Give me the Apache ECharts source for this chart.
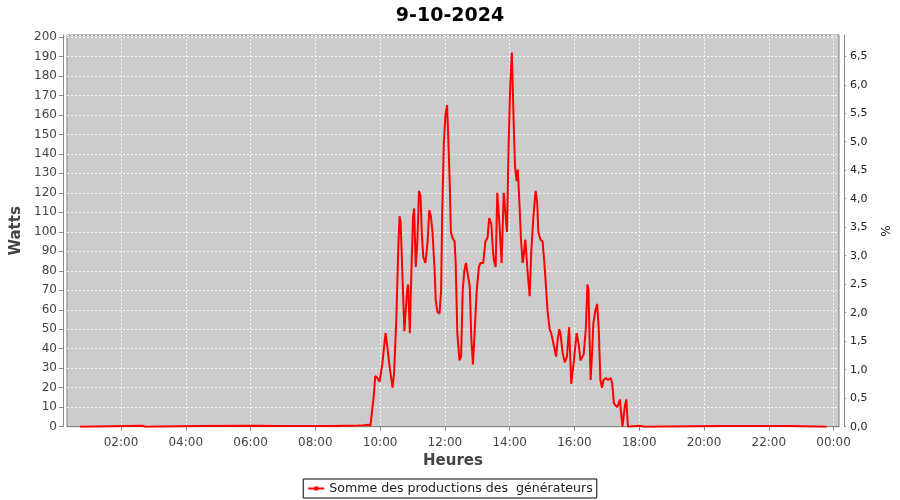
<!DOCTYPE html>
<html>
<head>
<meta charset="utf-8">
<script src="https://cdn.jsdelivr.net/npm/echarts@6/dist/echarts.min.js"></script>
<style>html,body{margin:0;padding:0;background:#fff}#c{width:900px;height:500px}</style>
</head>
<body>
<div id="c"></div>
<script>
const chartTitle = "9-10-2024";
const seriesName = "Somme des productions des  générateurs";
const times = [
  "00:44","02:40","02:45","04:20","06:10","06:50","07:20","08:30","09:20","09:30","09:38","09:42",
  "09:45","09:48","09:51","09:55","09:59","10:04","10:10","10:13","10:17","10:23","10:26","10:30",
  "10:34","10:36","10:38","10:41","10:45","10:50","10:52","10:55","10:58","11:01","11:03","11:06",
  "11:09","11:12","11:15","11:17","11:20","11:24","11:28","11:31","11:34","11:37","11:41","11:43",
  "11:46","11:50","11:53","11:55","11:58","12:01","12:04","12:06","12:09","12:11","12:14","12:18",
  "12:20","12:23","12:27","12:30","12:33","12:36","12:39","12:42","12:46","12:49","12:52","12:55",
  "12:59","13:03","13:06","13:11","13:15","13:19","13:22","13:26","13:29","13:31","13:34","13:37",
  "13:41","13:45","13:49","13:52","13:55","13:58","14:01","14:04","14:05","14:08","14:10","14:13",
  "14:15","14:18","14:21","14:24","14:26","14:29","14:33","14:37","14:40","14:44","14:48","14:51",
  "14:53","14:57","15:01","15:04","15:06","15:10","15:14","15:17","15:20","15:23","15:26","15:29",
  "15:32","15:34","15:38","15:42","15:46","15:50","15:54","15:59","16:04","16:08","16:11","16:17",
  "16:21","16:24","16:26","16:28","16:30","16:33","16:35","16:39","16:42","16:45","16:48","16:51",
  "16:54","16:58","17:02","17:07","17:10","17:13","17:16","17:19","17:22","17:24","17:26","17:29",
  "17:31","17:33","17:36","17:39","17:41","18:00","18:10","20:30","22:40","23:47"
];
const watts = [
  0,0.5,0,0.4,0.5,0.4,0.3,0.4,0.6,0.8,1,0.5,
  0,15,26,25,23,32,48,42,32,20,28,55,
  95,108,105,80,49,70,73,48,80,108,112,82,
  95,121,118,100,87,84,95,111,108,100,80,65,
  59,58,70,110,145,160,165,150,125,100,97,95,
  84,48,34,36,70,80,84,83,72,45,32,48,
  70,82,84,84,95,97,107,104,90,85,82,120,
  104,84,120,110,100,144,175,192,192,150,133,126,
  132,115,96,84,88,96,80,67,90,108,121,115,
  100,96,95,85,77,60,50,48,48,40,36,45,
  50,48,38,33,36,51,22,34,48,42,34,37,
  50,73,70,45,24,40,53,60,63,50,24,20,
  24,25,24,25,22,12,11,10,12,14,8,0,
  5,10,14,0,0,0.5,0,0.3,0.4,0
];
const xTickMinutes = [120,240,360,480,600,720,840,960,1080,1200,1320,1440];

function toMin(s){const p=s.split(':');return (+p[0])*60+(+p[1]);}
function fmtMin(v){const m=((v%1440)+1440)%1440;const h=Math.floor(m/60),mm=m%60;return (h<10?'0':'')+h+':'+(mm<10?'0':'')+mm;}
const data = times.map((t,i)=>[toMin(t), watts[i]]);

const FONT = "DejaVu Sans";
const chart = echarts.init(document.getElementById('c'), null, {renderer:'canvas'});
chart.setOption({
  animation:false,
  backgroundColor:'#ffffff',
  title:{text:chartTitle,left:'center',top:2,textStyle:{fontFamily:FONT,fontSize:19,fontWeight:'bold',color:'#000'}},
  grid:{left:67,right:61,top:35,height:391.7,show:true,backgroundColor:'#cccccc',borderColor:'#808080',borderWidth:1},
  legend:{bottom:2,left:'center',data:[seriesName],borderColor:'#000',borderWidth:1,padding:[3,4,3,4],
    itemWidth:16,itemHeight:5,itemGap:5,textStyle:{fontFamily:FONT,fontSize:12.6,color:'#222'}},
  xAxis:{type:'value',min:20,max:1450,offset:4,
    name:'Heures',nameLocation:'middle',nameGap:21,nameTextStyle:{fontFamily:FONT,fontSize:15,fontWeight:'bold',color:'#444'},
    axisLine:{show:true,lineStyle:{color:'#888'}},
    axisTick:{show:true,length:4,lineStyle:{color:'#888'},customValues:xTickMinutes},
    axisLabel:{margin:6,fontFamily:FONT,fontSize:12,color:'#444',customValues:xTickMinutes,formatter:v=>fmtMin(v)},
    splitLine:{show:true,customValues:xTickMinutes,lineStyle:{color:'#f4f4f4',type:[2,2],width:1}}},
  yAxis:[
    {type:'value',min:0,max:201,interval:10,offset:4,position:'left',
      name:'Watts',nameLocation:'middle',nameGap:35,nameTextStyle:{fontFamily:FONT,fontSize:15,fontWeight:'bold',color:'#444'},
      axisLine:{show:true,lineStyle:{color:'#888'}},axisTick:{show:true,length:4,lineStyle:{color:'#888'}},
      axisLabel:{showMaxLabel:false,margin:6,fontFamily:FONT,fontSize:12,color:'#444'},
      splitLine:{show:true,lineStyle:{color:'#f4f4f4',type:[2,2],width:1}}},
    {type:'value',min:0,max:6.873,interval:0.5,offset:5,position:'right',
      name:'%',nameLocation:'middle',nameGap:26,nameRotate:-90,nameTextStyle:{fontFamily:FONT,fontSize:12,color:'#222'},
      axisLine:{show:true,lineStyle:{color:'#888'}},axisTick:{show:true,length:2,lineStyle:{color:'#888'}},
      axisLabel:{showMaxLabel:false,margin:6,fontFamily:FONT,fontSize:11,color:'#222',
        formatter:v=>v.toFixed(1).replace('.',',')},
      splitLine:{show:false}}
  ],
  series:[{name:seriesName,type:'line',data:data,yAxisIndex:0,showSymbol:false,symbol:'rect',symbolSize:3,
    lineStyle:{color:'#ff0000',width:2},itemStyle:{color:'#ff0000'}}]
});
</script>
</body>
</html>
